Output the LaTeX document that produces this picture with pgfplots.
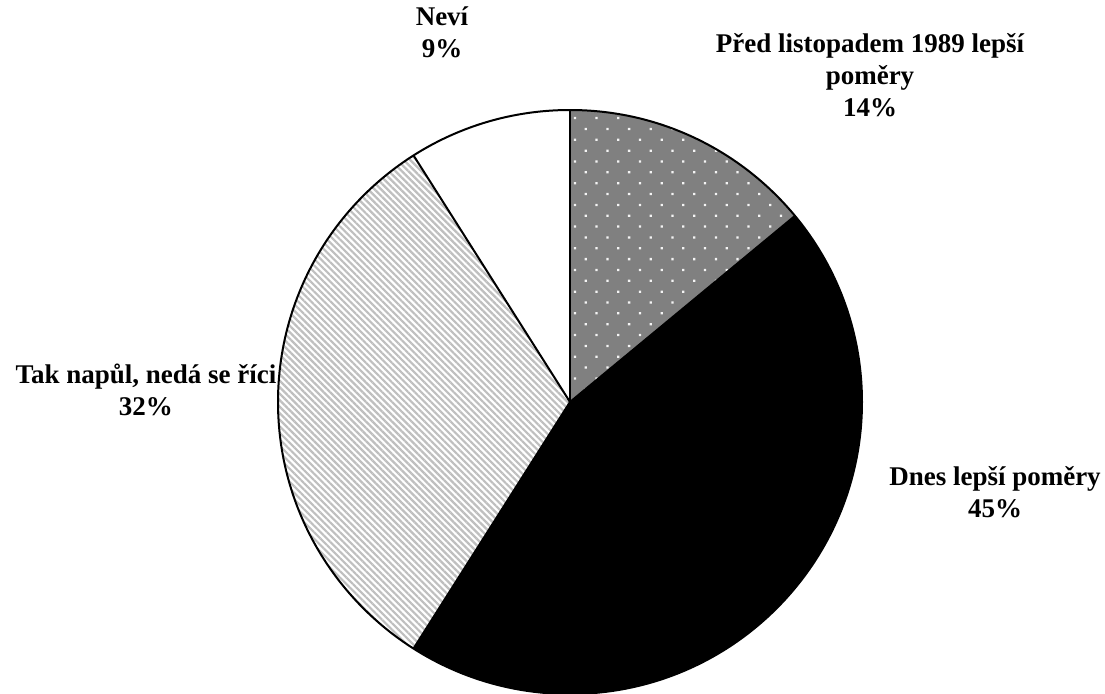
\documentclass[border=0pt]{standalone}
\usepackage{pgfplots}
\pgfplotsset{compat=1.18}
\usetikzlibrary{patterns.meta}
\usepackage{fontspec}
\setmainfont{Liberation Serif}
\definecolor{dotgray}{HTML}{808080}
\definecolor{stripegray}{HTML}{BFBFBF}
\begin{document}
\begin{tikzpicture}
\begin{axis}[
  width=552.5pt, height=346.5pt, scale only axis,
  xmin=0, xmax=1105, ymin=0, ymax=693,
  hide axis, clip=false,
]
% values: 14, 45, 32, 9 (percent); start at 90 deg, clockwise
% slice 1: Pred listopadem 1989 lepsi pomery 14
\fill[dotgray] (axis cs:570,291) -- ++(90:146pt) arc[start angle=90, end angle={90-3.6*14}, radius=146pt] -- cycle;
\fill[pattern={Dots[radius=0.8pt, distance=7.67pt, angle=45]}, pattern color=white!92!dotgray] (axis cs:570,291) -- ++(90:146pt) arc[start angle=90, end angle={90-3.6*14}, radius=146pt] -- cycle;
% slice 2: Dnes lepsi pomery 45
\fill[black] (axis cs:570,291) -- ++({90-3.6*14}:146pt) arc[start angle={90-3.6*14}, end angle={90-3.6*(14+45)}, radius=146pt] -- cycle;
% slice 3: Tak napul 32
\fill[white] (axis cs:570,291) -- ++({90-3.6*(14+45)}:146pt) arc[start angle={90-3.6*(14+45)}, end angle={90-3.6*(14+45+32)}, radius=146pt] -- cycle;
\fill[pattern={Lines[angle=-45, distance=2.3pt, line width=1.1pt]}, pattern color=stripegray] (axis cs:570,291) -- ++({90-3.6*(14+45)}:146pt) arc[start angle={90-3.6*(14+45)}, end angle={90-3.6*(14+45+32)}, radius=146pt] -- cycle;
% slice 4: Nevi 9
\fill[white] (axis cs:570,291) -- ++({90-3.6*(14+45+32)}:146pt) arc[start angle={90-3.6*(14+45+32)}, end angle={90-3.6*(14+45+32+9)}, radius=146pt] -- cycle;
% outlines
\draw[black, line width=1pt, line join=round] (axis cs:570,291) -- ++(90:146pt);
\draw[black, line width=1pt] (axis cs:570,291) -- ++({90-3.6*14}:146pt);
\draw[black, line width=1pt] (axis cs:570,291) -- ++({90-3.6*(14+45)}:146pt);
\draw[black, line width=1pt] (axis cs:570,291) -- ++({90-3.6*(14+45+32)}:146pt);
\draw[black, line width=1pt] (axis cs:570,291) circle[radius=146pt];
% labels
\tikzset{lbl/.style={align=center, anchor=center, inner sep=0pt, font=\fontsize{13.5}{16}\selectfont\bfseries}}
\node[lbl] at (axis cs:442,661) {Neví\\9\%};
\node[lbl] at (axis cs:870,618) {Před listopadem 1989 lepší\\poměry\\14\%};
\node[lbl] at (axis cs:146,303) {Tak napůl, nedá se říci\\32\%};
\node[lbl] at (axis cs:995,201) {Dnes lepší poměry\\45\%};
\end{axis}
\pgfresetboundingbox
\useasboundingbox (current axis.south west) rectangle (current axis.north east);
\end{tikzpicture}
\end{document}
